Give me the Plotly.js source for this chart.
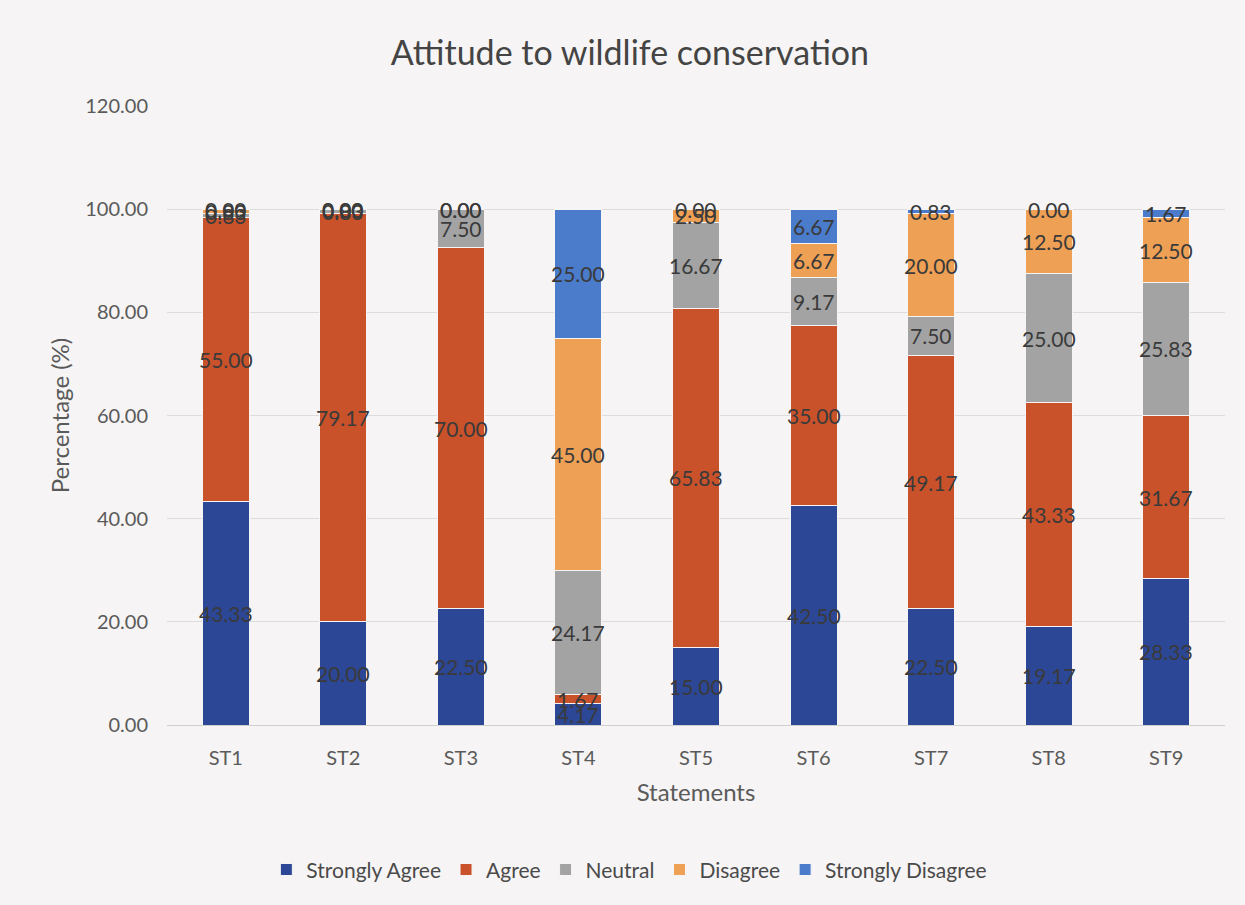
<!DOCTYPE html>
<html>
<head>
<meta charset="utf-8">
<script src="https://cdn.plot.ly/plotly-3.0.1.min.js"></script>
<style>
  html, body { margin: 0; padding: 0; background: #f6f4f4; }
  #chart { width: 1245px; height: 905px; }
</style>
</head>
<body>
<div id="chart"></div>
<script>
// Survey statements and response shares (%)
const statements = ["ST1", "ST2", "ST3", "ST4", "ST5", "ST6", "ST7", "ST8", "ST9"];
const stronglyAgree    = [43.33, 20.00, 22.50, 4.17, 15.00, 42.50, 22.50, 19.17, 28.33];
const agree            = [55.00, 79.17, 70.00, 1.67, 65.83, 35.00, 49.17, 43.33, 31.67];
const neutral          = [0.83, 0.83, 7.50, 24.17, 16.67, 9.17, 7.50, 25.00, 25.83];
const disagree         = [0.83, 0.00, 0.00, 45.00, 2.50, 6.67, 20.00, 12.50, 12.50];
const stronglyDisagree = [0.00, 0.00, 0.00, 25.00, 0.00, 6.67, 0.83, 0.00, 1.67];
const yTicks = [0, 20, 40, 60, 80, 100, 120];

const seriesNames = ["Strongly Agree", "Agree", "Neutral", "Disagree", "Strongly Disagree"];
const seriesValues = [stronglyAgree, agree, neutral, disagree, stronglyDisagree];
const seriesColors = ["#2c4795", "#c9522b", "#a3a3a3", "#eea055", "#4a7ccb"];

const font = "Lato, 'Open Sans', sans-serif";

const traces = seriesValues.map((vals, i) => ({
  type: "bar",
  name: seriesNames[i],
  x: statements,
  y: vals,
  marker: { color: seriesColors[i], line: { color: "#f6f4f4", width: 1 } },
  hoverinfo: "x+y+name"
}));

// value labels centred on each stacked segment
const annotations = [];
statements.forEach((st, j) => {
  let base = 0;
  seriesValues.forEach((vals) => {
    const v = vals[j];
    annotations.push({
      x: st, y: base + v / 2, xref: "x", yref: "y",
      text: v.toFixed(2), showarrow: false,
      font: { family: font, size: 21, color: "#3a3a3a" }
    });
    base += v;
  });
});

const layout = {
  width: 1245, height: 905,
  paper_bgcolor: "#f6f4f4",
  plot_bgcolor: "#f6f4f4",
  barmode: "stack",
  bargap: 0.6,
  margin: { l: 167, r: 20, t: 106, b: 180 },
  title: {
    text: "Attitude to wildlife conservation",
    font: { family: font, size: 34, color: "#444444" },
    x: 0.506, xanchor: "center", y: 0.941, yanchor: "middle"
  },
  xaxis: {
    type: "category",
    tickfont: { family: font, size: 20, color: "#5a5a5a" },
    ticklabelstandoff: 15,
    title: { text: "Statements", font: { family: font, size: 24, color: "#5a5a5a" }, standoff: 16 },
    showline: true, linecolor: "#d0d0d0", linewidth: 1,
    ticks: "", ticklen: 0
  },
  yaxis: {
    range: [0, 120],
    tickvals: yTicks,
    ticktext: yTicks.map(v => v.toFixed(2)),
    tickfont: { family: font, size: 20, color: "#5a5a5a" },
    ticklabelstandoff: 18,
    title: { text: "Percentage (%)", font: { family: font, size: 24, color: "#5a5a5a" }, standoff: 8 },
    gridcolor: "#dcdcdc", gridwidth: 1,
    zeroline: false, ticks: ""
  },
  legend: {
    orientation: "h",
    x: 0.437, xanchor: "center", y: -0.234, yanchor: "middle",
    font: { family: font, size: 21, color: "#4a4a4a" },
    traceorder: "normal",
    itemwidth: 20
  },
  annotations: annotations,
  showlegend: true
};

Plotly.newPlot("chart", traces, layout, { displayModeBar: false, staticPlot: true });
</script>
</body>
</html>
